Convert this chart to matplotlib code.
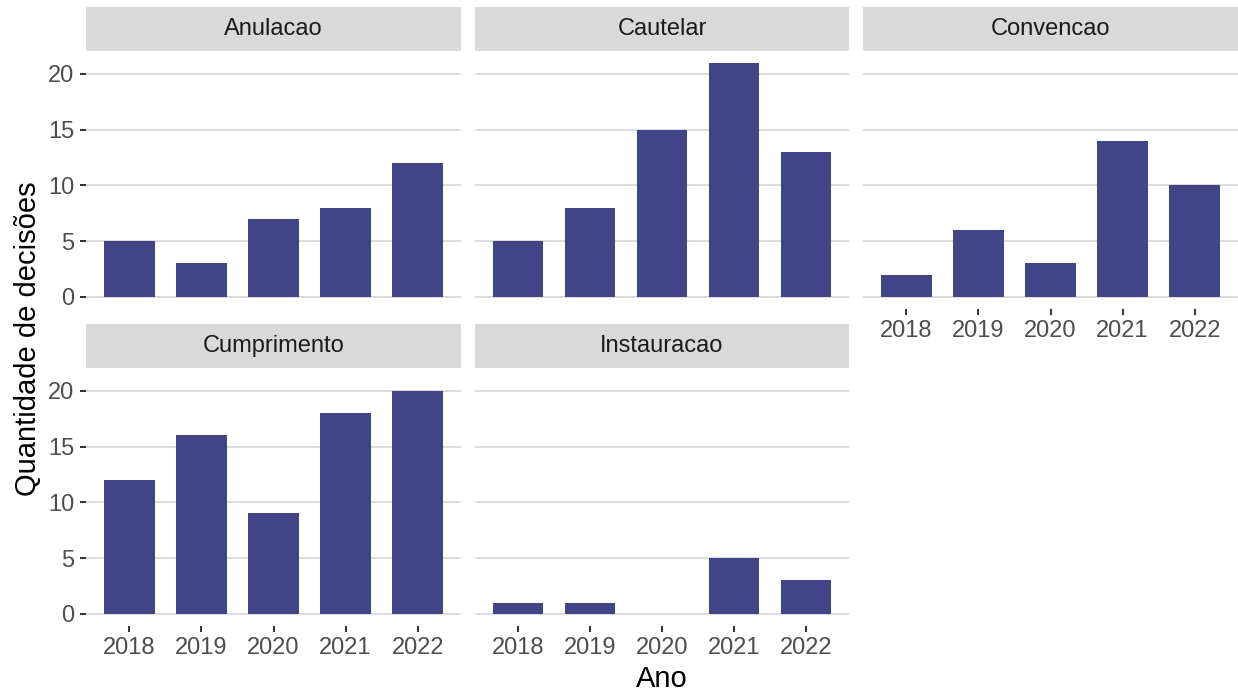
import matplotlib
matplotlib.use('Agg')
import matplotlib.pyplot as plt

# data
anos = ['2018', '2019', '2020', '2021', '2022']
tipos = ['Anulacao', 'Cautelar', 'Convencao', 'Cumprimento', 'Instauracao']
anulacao = [5, 3, 7, 8, 12]
cautelar = [5, 8, 15, 21, 13]
convencao = [2, 6, 3, 14, 10]
cumprimento = [12, 16, 9, 18, 20]
instauracao = [1, 1, 0, 5, 3]
valores = [anulacao, cautelar, convencao, cumprimento, instauracao]

plt.rcParams['font.family'] = ['Liberation Sans', 'DejaVu Sans']

W, H = 1238, 694
fig = plt.figure(figsize=(W / 100, H / 100), dpi=100)

BAR = '#414487'
GRID = '#DCDCDC'
STRIP = '#D9D9D9'

col_left = [86, 474.5, 863]
col_w = 375
row_top = [51, 368]
row_h = 257.5
strip_h = 44

ymax = max(max(v) for v in valores)
ylim = (-0.05 * ymax, ymax * 1.05)

for i, (nome, vals) in enumerate(zip(tipos, valores)):
    r, c = divmod(i, 3)
    x0 = col_left[c]
    y0 = row_top[r]
    ax = fig.add_axes([x0 / W, 1 - (y0 + row_h) / H, col_w / W, row_h / H])
    ax.bar(range(len(anos)), vals, width=0.7, color=BAR, zorder=2)
    ax.set_xlim(-0.6, len(anos) - 0.4)
    ax.set_ylim(*ylim)
    ax.set_yticks([0, 5, 10, 15, 20])
    ax.set_xticks(range(len(anos)))
    ax.set_xticklabels(anos)
    for s in ax.spines.values():
        s.set_visible(False)
    ax.grid(axis='y', color=GRID, linewidth=1.4, zorder=0)
    ax.set_axisbelow(True)
    ax.tick_params(axis='both', length=4.3, width=1.4, color='#333333',
                   labelsize=17, labelcolor='#4D4D4D', pad=4)
    # ticks only on outer panels
    if c != 0:
        ax.tick_params(axis='y', left=False, labelleft=False)
    bottom = (r == 1) or (c == 2)
    if not bottom:
        ax.tick_params(axis='x', bottom=False, labelbottom=False)

    # strip
    sax = fig.add_axes([x0 / W, 1 - y0 / H, col_w / W, strip_h / H])
    sax.set_facecolor(STRIP)
    sax.set_xticks([])
    sax.set_yticks([])
    for s in sax.spines.values():
        s.set_visible(False)
    sax.text(0.5, 0.5, nome, ha='center', va='center', fontsize=17,
             color='#1A1A1A', transform=sax.transAxes)

fig.text(28 / W, 1 - 339 / H, 'Quantidade de decisões', rotation=90,
         ha='center', va='center', fontsize=21, color='black')
fig.text(662 / W, 1 - 679 / H, 'Ano', ha='center', va='center',
         fontsize=21, color='black')

fig.savefig('out.png', dpi=100)
